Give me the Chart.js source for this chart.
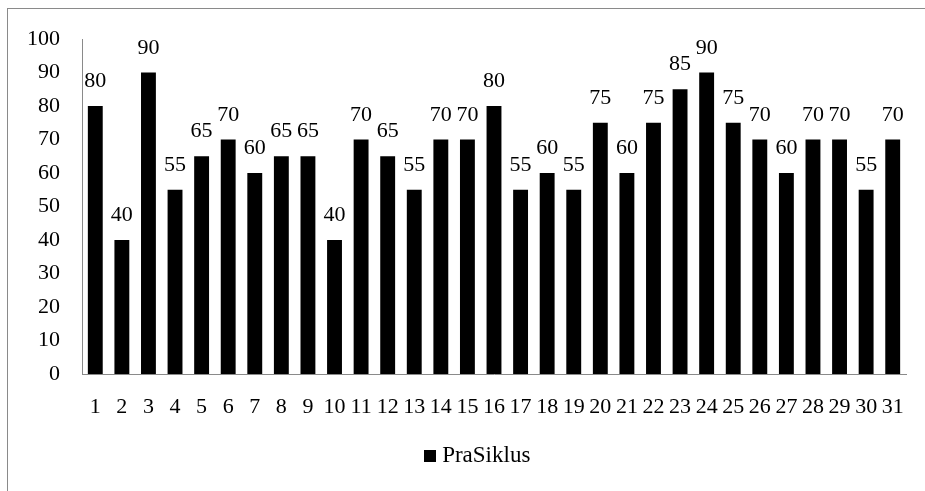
<!DOCTYPE html>
<html>
<head>
<meta charset="utf-8">
<script src="https://cdn.jsdelivr.net/npm/chart.js@4/dist/chart.umd.min.js"></script>
<style>
  html, body { margin: 0; padding: 0; background: #fff; overflow: hidden; }
  #wrap { position: relative; width: 925px; height: 491px; }
  #frame { position: absolute; left: 7px; top: 8px; width: 1000px; height: 1000px; border: 1px solid #8a8a8a; }
  #chart { position: absolute; left: 0; top: 0; }
</style>
</head>
<body>
<div id="wrap">
  <div id="frame"></div>
  <canvas id="chart" width="925" height="491"></canvas>
</div>
<script>
// data
const labels = ['1','2','3','4','5','6','7','8','9','10','11','12','13','14','15','16',
  '17','18','19','20','21','22','23','24','25','26','27','28','29','30','31'];
const praSiklus = [80, 40, 90, 55, 65, 70, 60, 65, 65, 40, 70, 65, 55, 70, 70, 80,
  55, 60, 55, 75, 60, 75, 85, 90, 75, 70, 60, 70, 70, 55, 70];
const seriesName = 'PraSiklus';

const serif = '"Liberation Serif", "Times New Roman", serif';
Chart.defaults.font.family = serif;
Chart.defaults.font.size = 22;
Chart.defaults.color = '#000';

// small black square used as legend marker (keeps the text close to it)
const legendSquare = document.createElement('canvas');
legendSquare.width = 12;
legendSquare.height = 12;
const sq = legendSquare.getContext('2d');
sq.fillStyle = '#000';
sq.fillRect(0, 0, 12, 12);

// value labels above each bar
const valueLabels = {
  id: 'valueLabels',
  afterDatasetsDraw(chart) {
    const ctx = chart.ctx;
    ctx.save();
    ctx.font = '22px ' + serif;
    ctx.fillStyle = '#000';
    ctx.textAlign = 'center';
    ctx.textBaseline = 'alphabetic';
    chart.getDatasetMeta(0).data.forEach((bar, i) => {
      ctx.fillText(String(praSiklus[i]), bar.x, bar.y - 19);
    });
    ctx.restore();
  }
};

// legend sits a bit right of the canvas centre in the original
const legendShift = {
  id: 'legendShift',
  afterLayout(chart) {
    chart.legend.left += 27;
    chart.legend.right += 27;
  }
};

new Chart(document.getElementById('chart').getContext('2d'), {
  type: 'bar',
  data: {
    labels: labels,
    datasets: [{
      label: seriesName,
      data: praSiklus,
      backgroundColor: '#000',
      borderWidth: 0,
      barPercentage: 0.56,
      categoryPercentage: 1.0,
      pointStyle: legendSquare
    }]
  },
  options: {
    responsive: false,
    animation: false,
    layout: { padding: { left: 0, right: 19, top: 39, bottom: 14 } },
    plugins: {
      legend: {
        position: 'bottom',
        labels: {
          usePointStyle: true,
          pointStyleWidth: 1,
          boxHeight: 12,
          padding: 10,
          color: '#000',
          font: { size: 23 }
        }
      },
      tooltip: { enabled: false }
    },
    scales: {
      x: {
        grid: { display: false },
        border: { display: true, color: '#8a8a8a', width: 1 },
        ticks: { padding: 12, maxRotation: 0, autoSkip: false },
        afterFit: (scale) => { scale.height = 60; }
      },
      y: {
        min: 0,
        max: 100,
        grid: { display: false },
        border: { display: true, color: '#8a8a8a', width: 1 },
        ticks: { stepSize: 10, padding: 14 },
        afterFit: (scale) => { scale.width = 82; }
      }
    }
  },
  plugins: [valueLabels, legendShift]
});
</script>
</body>
</html>
